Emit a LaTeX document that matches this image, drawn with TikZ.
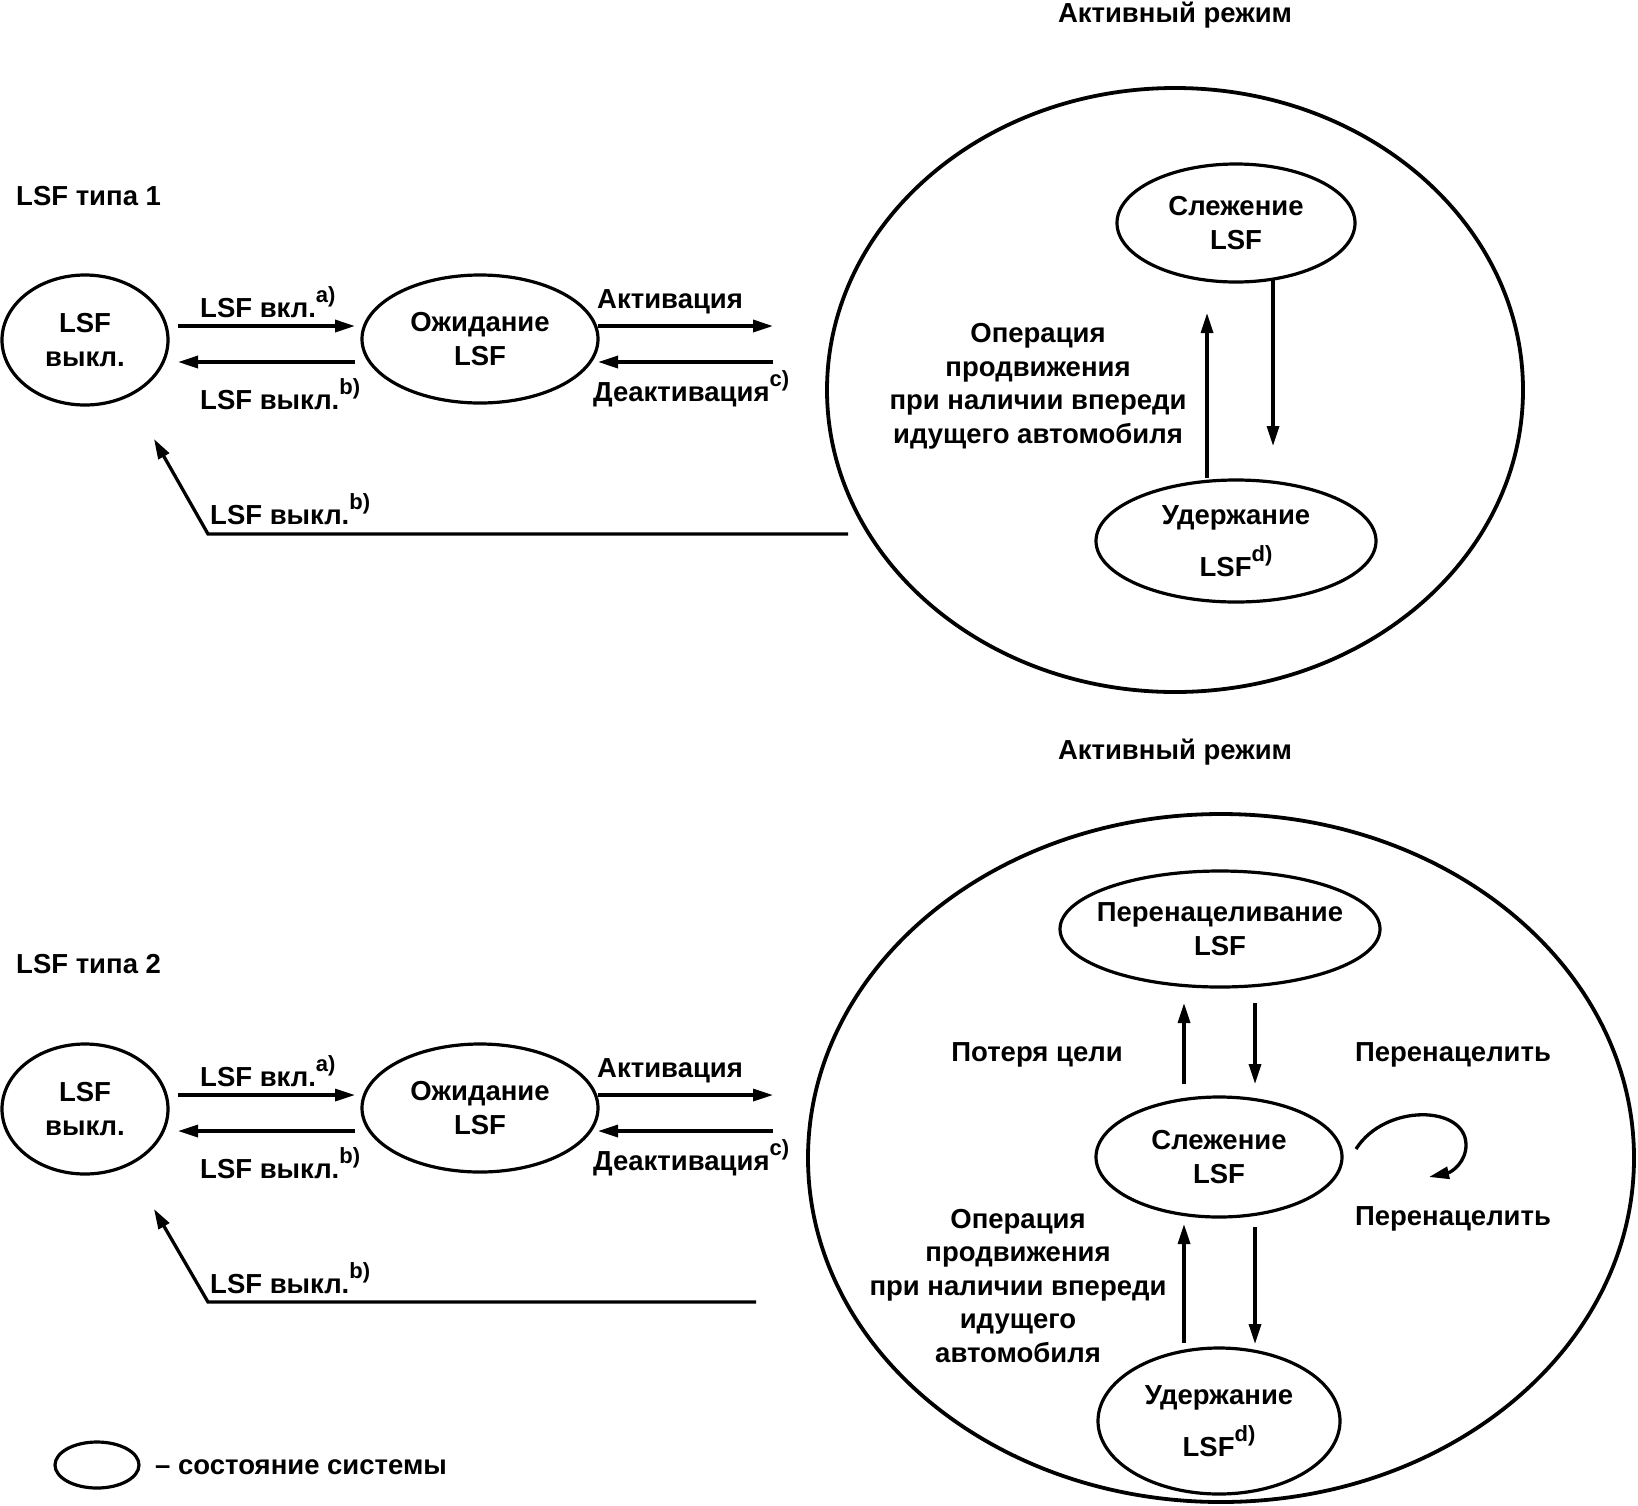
\documentclass[tikz,border=0pt]{standalone}
\usepackage{fontspec}
\setmainfont{Liberation Sans}
\usetikzlibrary{shapes.geometric,arrows.meta,calc}
\newcommand\lblfont{\fontsize{27.5}{33.5}\selectfont\bfseries}
\newcommand\mysup[1]{\raisebox{0.55em}{\fontsize{22}{22}\selectfont #1}}
\tikzset{
  state/.style={ellipse, draw, line width=3.2pt, inner sep=0pt, outer sep=0pt, align=center, font=\lblfont},
  bigstate/.style={ellipse, draw, line width=3.8pt, inner sep=0pt, outer sep=0pt},
  arr/.style={line width=3.3pt, -{Triangle[length=20pt,width=12pt]}},
  lab/.style={font=\lblfont, inner sep=0pt, align=center},
}
\begin{document}
\begin{tikzpicture}[x=1pt,y=-1pt]
\useasboundingbox[fill=white] (0,0) rectangle (1638,1505);

% ---------------- Type 1 ----------------
\node[lab] (title1) at (1175,15) {Активный режим};
\node[lab, anchor=west] (type1) at (16,196) {LSF типа 1};
\node[state, minimum width=166, minimum height=130] (off1) at (85,340) {LSF\\выкл.};
\node[state, minimum width=236, minimum height=128] (wait1) at (480,339) {Ожидание\\LSF};
\node[bigstate, minimum width=696, minimum height=604] (act1) at (1175,390) {};
\node[state, minimum width=238, minimum height=118] (track1) at (1236,223) {Слежение\\LSF};
\node[state, minimum width=280, minimum height=122] (hold1) at (1236,541) {Удержание\\[14pt]LSF\mysup{d)}};

\draw[arr] ($(off1.center)+(93,-14)$) -- ($(wait1.center)+(-125,-13)$);
\draw[arr] ($(wait1.center)+(-125,23)$) -- ($(off1.center)+(93,22)$);
\node[lab, anchor=west] (on1lab) at (200,302) {LSF вкл.\mysup{a)}};
\node[lab, anchor=west] (offl1lab) at (200,394) {LSF выкл.\mysup{b)}};

\coordinate (a1r) at (773,326);
\coordinate (d1r) at (773,362);
\draw[arr] ($(wait1.center)+(118,-13)$) -- (a1r);
\draw[arr] (d1r) -- ($(wait1.center)+(118,23)$);
\node[lab, anchor=west] (actlab1) at (597,302) {Активация};
\node[lab, anchor=west] (deactlab1) at (593,389) {Деактивация\mysup{c)}};

\coordinate (r1s) at (848,534);
\coordinate (r1c) at (208,534);
\coordinate (r1e) at (154,439);
\draw[arr] (r1s) -- (r1c) -- (r1e);
\node[lab, anchor=west] (ret1lab) at (210,509) {LSF выкл.\mysup{b)}};

\draw[arr] ($(hold1.center)+(-29,-63)$) -- ($(track1.center)+(-29,90)$);
\draw[arr] ($(track1.center)+(37,57)$) -- ($(hold1.center)+(37,-95)$);
\node[lab] (op1) at (1038,386) {Операция\\продвижения\\при наличии впереди\\идущего автомобиля};

% ---------------- Type 2 ----------------
\node[lab] (title2) at (1175,752) {Активный режим};
\node[lab, anchor=west] (type2) at (16,964) {LSF типа 2};
\node[state, minimum width=166, minimum height=130] (off2) at (85,1109) {LSF\\выкл.};
\node[state, minimum width=236, minimum height=128] (wait2) at (480,1108) {Ожидание\\LSF};
\node[bigstate, minimum width=826, minimum height=688] (act2) at (1221,1158) {};
\node[state, minimum width=320, minimum height=116] (retarget) at (1220,929) {\makebox[0pt]{Перенацеливание}\\LSF};
\node[state, minimum width=246, minimum height=120] (track2) at (1219,1157) {Слежение\\LSF};
\node[state, minimum width=242, minimum height=146] (hold2) at (1219,1421) {Удержание\\[14pt]LSF\mysup{d)}};

\draw[arr] ($(off2.center)+(93,-14)$) -- ($(wait2.center)+(-125,-13)$);
\draw[arr] ($(wait2.center)+(-125,23)$) -- ($(off2.center)+(93,22)$);
\node[lab, anchor=west] (on2lab) at (200,1071) {LSF вкл.\mysup{a)}};
\node[lab, anchor=west] (off2lab) at (200,1163) {LSF выкл.\mysup{b)}};

\coordinate (a2r) at (773,1095);
\coordinate (d2r) at (773,1131);
\draw[arr] ($(wait2.center)+(118,-13)$) -- (a2r);
\draw[arr] (d2r) -- ($(wait2.center)+(118,23)$);
\node[lab, anchor=west] (actlab2) at (597,1071) {Активация};
\node[lab, anchor=west] (deactlab2) at (593,1158) {Деактивация\mysup{c)}};

\coordinate (r2s) at (756,1302);
\coordinate (r2c) at (208,1302);
\coordinate (r2e) at (154,1209);
\draw[arr] (r2s) -- (r2c) -- (r2e);
\node[lab, anchor=west] (ret2lab) at (210,1278) {LSF выкл.\mysup{b)}};

\draw[arr] ($(track2.center)+(-35,-73)$) -- ($(retarget.center)+(-36,74)$);
\draw[arr] ($(retarget.center)+(35,74)$) -- ($(track2.center)+(36,-73)$);
\draw[arr] ($(hold2.center)+(-35,-78)$) -- ($(track2.center)+(-35,67)$);
\draw[arr] ($(track2.center)+(36,70)$) -- ($(hold2.center)+(36,-77)$);

\node[lab] (loss) at (1037,1055) {Потеря цели};
\node[lab] (retgt1) at (1453,1055) {Перенацелить};
\node[lab] (retgt2) at (1453,1219) {Перенацелить};
\node[lab] (op2) at (1018,1286) {Операция\\продвижения\\при наличии впереди\\идущего\\автомобиля};

\coordinate (loopend) at (1429,1177);
\draw[arr] ($(track2.center)+(137,-8)$) .. controls (1385,1103) and (1466,1105) .. (1466,1145)
  .. controls (1466,1162) and (1452,1172) .. (loopend);

% ---------------- Legend ----------------
\node[state, minimum width=84, minimum height=46] (leg) at (97,1465) {};
\node[lab, anchor=west] (leglab) at (155,1467) {– состояние системы};
\end{tikzpicture}
\end{document}
